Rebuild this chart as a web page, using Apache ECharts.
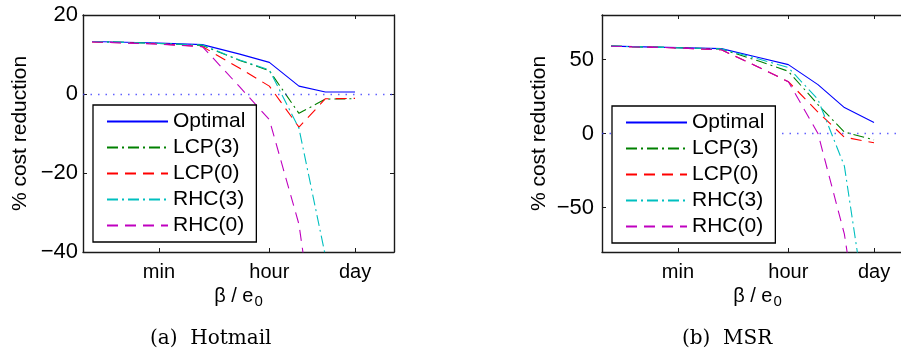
<!DOCTYPE html>
<html>
<head>
<meta charset="utf-8">
<script src="https://cdn.jsdelivr.net/npm/echarts@6/dist/echarts.min.js"></script>
<style>
html,body{margin:0;padding:0;background:#fff;}
#chart{width:901px;height:351px;}
</style>
</head>
<body>
<div id="chart"></div>
<script>
// beta / e0 in seconds at each data point
var xSeconds = [5, 60, 300, 1200, 3600, 10800, 28800, 86400];
var tickSeconds = [60, 3600, 86400];
var tickNames = ['min', 'hour', 'day'];
var seriesNames = ['Optimal', 'LCP(3)', 'LCP(0)', 'RHC(3)', 'RHC(0)'];

// (a) Hotmail
var hotOptimal = [13.3, 12.9, 12.5, 10.1, 8.0, 2.0, 0.5, 0.5];
var hotLCP3    = [13.3, 12.8, 12.3, 8.5, 5.9, -4.9, -1.3, -1.2];
var hotLCP0    = [13.2, 12.7, 12.0, 6.5, 2.0, -8.4, -1.2, -1.1];
var hotRHC3    = [13.3, 12.8, 12.4, 8.6, 6.1, -8.7, -41, -90];
var hotRHC0    = [13.2, 12.6, 12.0, 1.8, -6.5, -33, -80, -120];

// (b) MSR
var msrOptimal = [59.0, 58.0, 57.3, 51.3, 46.5, 33.0, 17.5, 7.5];
var msrLCP3    = [59.0, 57.9, 57.0, 48.9, 42.0, 19.5, 1.0, -4.3];
var msrLCP0    = [58.9, 57.8, 56.5, 44.8, 35.0, 14.5, -2.5, -6.3];
var msrRHC3    = [59.0, 57.9, 57.1, 50.3, 44.5, 23.0, -22, -155];
var msrRHC0    = [58.9, 57.8, 56.5, 44.7, 35.0, 0.0, -68, -200];

var hotYTicks = [-40, -20, 0, 20];
var msrYTicks = [-50, 0, 50];

var xMinSec = 3.58, xMaxSec = 367000;

var FONT = '"Liberation Sans", Arial, Helvetica, sans-serif';
var AX = '#1a1a1a';
var colors = ['#0000ff', '#008000', '#ff0000', '#00bfbf', '#bf00bf'];
var dashes = ['solid', [11, 4, 2, 4], [11, 7], [11, 4, 2, 4], [11, 7]];

var lg = function (v) { return Math.log10(v); };
var xTickVals = tickSeconds.map(lg);

function xAxisDef(grid, pos, labels) {
  return {
    type: 'value', gridIndex: grid, position: pos,
    min: lg(xMinSec), max: lg(xMaxSec),
    axisLine: {show: true, onZero: false, lineStyle: {color: AX, width: 1.4}},
    axisTick: {show: true, inside: true, length: 4, customValues: xTickVals, lineStyle: {color: AX, width: 1}},
    axisLabel: {
      show: labels, customValues: xTickVals, margin: 10,
      fontSize: 20, color: '#000', fontFamily: FONT,
      formatter: function (v) {
        for (var i = 0; i < xTickVals.length; i++) {
          if (Math.abs(xTickVals[i] - v) < 1e-6) return tickNames[i];
        }
        return '';
      }
    },
    splitLine: {show: false},
    name: labels ? 'β / e{sub|0}' : '',
    nameLocation: 'middle', nameGap: 29,
    nameTextStyle: {
      fontSize: 20, color: '#000', fontFamily: FONT,
      rich: {sub: {fontSize: 15, color: '#000', fontFamily: FONT, padding: [10, 0, 0, 1]}}
    }
  };
}

function yAxisDef(grid, pos, labels, min, max, ticks, margin) {
  return {
    type: 'value', gridIndex: grid, position: pos,
    min: min, max: max,
    axisLine: {show: true, onZero: false, lineStyle: {color: AX, width: 1.4}},
    axisTick: {show: true, inside: true, length: 4, customValues: ticks, lineStyle: {color: AX, width: 1}},
    axisLabel: {
      show: labels, customValues: ticks, margin: margin,
      fontSize: 22, color: '#000', fontFamily: FONT,
      formatter: function (v) { return v < 0 ? '\u2212' + Math.abs(v) : String(v); }
    },
    splitLine: {show: false},
    name: labels ? '% cost reduction' : '',
    nameLocation: 'middle', nameRotate: 90, nameGap: 52,
    nameTextStyle: {fontSize: 21, color: '#000', fontFamily: FONT}
  };
}

function mkSeries(idx, vals, xi, yi) {
  var s = {
    type: 'line', name: seriesNames[idx],
    xAxisIndex: xi, yAxisIndex: yi,
    data: xSeconds.map(function (sec, i) { return [lg(sec), vals[i]]; }),
    symbol: 'none', showSymbol: false,
    lineStyle: {color: colors[idx], width: 1.1, type: dashes[idx]},
    itemStyle: {color: colors[idx]},
    emphasis: {disabled: true},
    clip: true, z: 2 + idx * 0.01
  };
  if (idx === 0) {
    s.markLine = {
      silent: true, symbol: 'none', label: {show: false},
      lineStyle: {color: '#3a3aff', type: [1.5, 6], width: 1.4, opacity: 0.8},
      emphasis: {disabled: true},
      data: [{yAxis: 0}]
    };
  }
  return s;
}

function legendDef(left, top) {
  return {
    show: true, orient: 'vertical', left: left, top: top,
    data: seriesNames, align: 'left',
    itemWidth: 61, itemHeight: 2, itemGap: 5,
    itemStyle: {opacity: 0, borderWidth: 0},
    padding: [6, 11, 6, 13],
    backgroundColor: '#fff', borderColor: '#000', borderWidth: 1.3,
    textStyle: {fontSize: 21, lineHeight: 21, color: '#000', fontFamily: FONT},
    selectedMode: false, z: 10
  };
}

var hotSets = [hotOptimal, hotLCP3, hotLCP0, hotRHC3, hotRHC0];
var msrSets = [msrOptimal, msrLCP3, msrLCP0, msrRHC3, msrRHC0];

var series = [];
hotSets.forEach(function (v, i) { series.push(mkSeries(i, v, 0, 0)); });
msrSets.forEach(function (v, i) { series.push(mkSeries(i, v, 2, 2)); });

var chart = echarts.init(document.getElementById('chart'), null, {renderer: 'canvas'});
chart.setOption({
  animation: false,
  backgroundColor: '#fff',
  grid: [
    {left: 83, top: 15, width: 311, height: 237, outerBoundsMode: 'none', containLabel: false},
    {left: 602, top: 15, width: 311, height: 237, outerBoundsMode: 'none', containLabel: false}
  ],
  xAxis: [
    xAxisDef(0, 'bottom', true), xAxisDef(0, 'top', false),
    xAxisDef(1, 'bottom', true), xAxisDef(1, 'top', false)
  ],
  yAxis: [
    yAxisDef(0, 'left', true, -40, 20, hotYTicks, 5), yAxisDef(0, 'right', false, -40, 20, hotYTicks, 5),
    yAxisDef(1, 'left', true, -80, 80, msrYTicks, 8), yAxisDef(1, 'right', false, -80, 80, msrYTicks, 8)
  ],
  legend: [legendDef(93, 105), legendDef(612, 106)],
  title: [
    {text: '(a)  Hotmail', left: 150, top: 329, padding: 0,
     textStyle: {fontSize: 20, fontWeight: 'normal', color: '#000', fontFamily: '"DejaVu Serif", serif'}},
    {text: '(b)  MSR', left: 682, top: 329, padding: 0,
     textStyle: {fontSize: 20, fontWeight: 'normal', color: '#000', fontFamily: '"DejaVu Serif", serif'}}
  ],
  series: series
});
</script>
</body>
</html>
